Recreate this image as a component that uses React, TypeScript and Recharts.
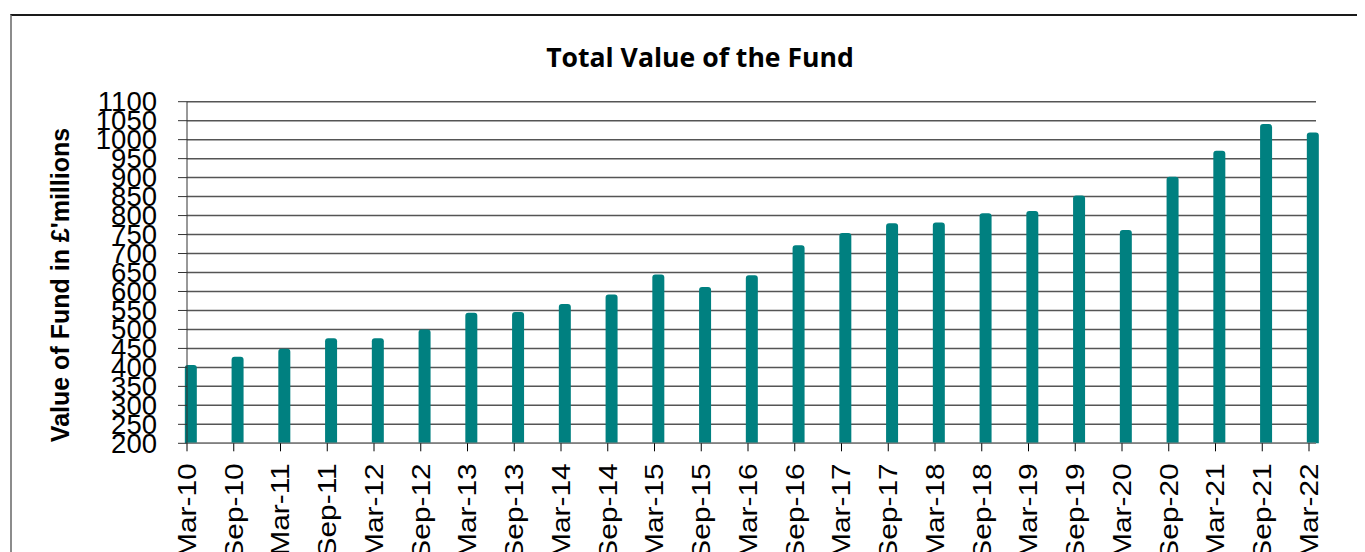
import React from 'react';
import { BarChart, Bar, XAxis, YAxis, CartesianGrid, Rectangle } from 'recharts';

const categories = ['Mar-10','Sep-10','Mar-11','Sep-11','Mar-12','Sep-12','Mar-13','Sep-13','Mar-14','Sep-14','Mar-15','Sep-15','Mar-16','Sep-16','Mar-17','Sep-17','Mar-18','Sep-18','Mar-19','Sep-19','Mar-20','Sep-20','Mar-21','Sep-21','Mar-22'];
const fundValues = [406,428,449,477,477,500,544,546,567,592,645,612,643,722,754,780,782,806,812,853,762,902,971,1041,1019];
const yTicks = [200,250,300,350,400,450,500,550,600,650,700,750,800,850,900,950,1000,1050,1100];
const xTicks = categories.map((_, i) => i);
const title = 'Total Value of the Fund';
const yTitle = "Value of Fund in £'millions";

const data = categories.map((c, i) => ({ idx: i, label: c, value: fundValues[i] }));

const ARIAL = '"Liberation Sans", Arial, sans-serif';

const BarShape = (props: any) => {
  const { x, y, width, height } = props;
  return <Rectangle x={x + width * 0.35} y={y} width={width} height={height} radius={[3, 3, 0, 0]} fill="#008080" />;
};

const XTick = (props: any) => {
  const { x, y, payload } = props;
  return (
    <g transform={`translate(${x},${y}) rotate(-90) scale(1.15,1)`}>
      <text x={0} y={0} textAnchor="end" dominantBaseline="central" fontSize={26} fontFamily={ARIAL} fill="#000">
        {categories[payload.value]}
      </text>
    </g>
  );
};

export default function App() {
  return (
    <div style={{ position: 'relative', width: 1357, height: 544 }}>
      <div style={{ position: 'absolute', left: 2, top: 6, width: 1355, height: 538, borderTop: '2px solid #1a1a1a', borderLeft: '2px solid #8c8c8c', boxSizing: 'border-box' }} />
      <BarChart width={1357} height={544} data={data} margin={{ top: 93.7, right: 49, left: 0, bottom: 8.7 }} style={{ position: 'absolute', left: 0, top: 0 }}>
        <CartesianGrid horizontal vertical={false} stroke="#555" strokeWidth={1.5} />
        <XAxis
          dataKey="idx"
          type="number"
          domain={[0, 24]}
          ticks={xTicks}
          interval={0}
          padding={{ left: 0, right: 7 }}
          height={100}
          tickSize={8}
          tickMargin={12}
          tick={<XTick />}
          axisLine={{ stroke: '#808080', strokeWidth: 1.5 }}
          tickLine={{ stroke: '#000' }}
        />
        <YAxis
          type="number"
          domain={[200, 1100]}
          ticks={yTicks}
          interval={0}
          width={179}
          tickSize={9}
          tickMargin={21}
          tick={{ fontSize: 27.5, fontFamily: ARIAL, fill: '#000' }}
          axisLine={{ stroke: '#333' }}
          tickLine={{ stroke: '#333' }}
        />
        <Bar dataKey="value" barSize={12} fill="#008080" isAnimationActive={false} shape={<BarShape />} />
        <text x={692} y={58.7} textAnchor="middle" fontSize={26.6} fontWeight="bold" fontFamily='"Open Sans", sans-serif' fill="#000">{title}</text>
        <text x={61} y={277} transform="rotate(-90 61 277)" textAnchor="middle" fontSize={25} fontWeight="bold" fontFamily={ARIAL} fill="#000">{yTitle}</text>
      </BarChart>
    </div>
  );
}
